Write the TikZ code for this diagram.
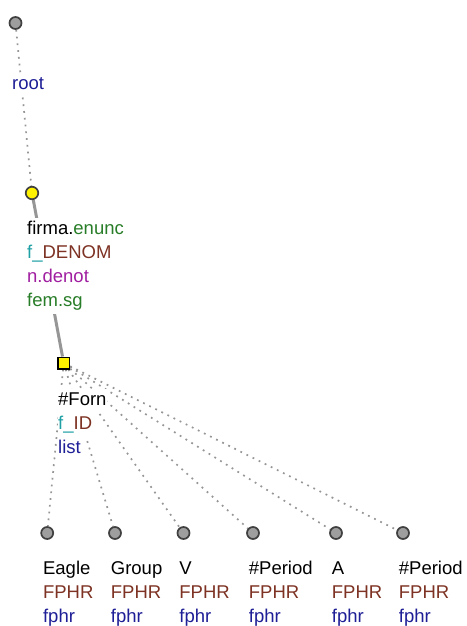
\documentclass[tikz,border=0pt]{standalone}
\usepackage{fontspec}
\setmainfont{Liberation Sans}
\definecolor{navy}{RGB}{30,30,150}
\definecolor{brn}{RGB}{125,50,35}
\definecolor{tealc}{RGB}{30,160,165}
\definecolor{grn}{RGB}{40,125,40}
\definecolor{purp}{RGB}{160,30,160}
\definecolor{edgegray}{RGB}{150,150,150}
\pgfdeclarelayer{bg}
\pgfsetlayers{bg,main}
\tikzset{
  lbl/.style={anchor=base west, fill=white, inner xsep=0.5pt, inner ysep=0pt,
    text height=16pt, text depth=7.5pt, font=\fontsize{18.5}{22}\selectfont},
  graynode/.style={circle, draw=black!75, fill=black!38, line width=1.7pt,
    minimum size=12pt, inner sep=0pt},
  yellownode/.style={circle, draw=black!75, fill=yellow, line width=1.7pt,
    minimum size=12.5pt, inner sep=0pt},
  sqnode/.style={rectangle, draw=black, fill=yellow, line width=1.5pt,
    minimum size=11.5pt, inner sep=0pt},
  dotedge/.style={draw=edgegray, line width=1.7pt, dash pattern=on 1.8pt off 5pt},
  thickedge/.style={draw=edgegray, line width=3pt},
}
\newcommand{\mkleaf}[3]{%
  \node[graynode] (#1) at (#2,533) {};
  \node[lbl] (#1a) at (#2-4.8,574) {#3};
  \node[lbl, text=brn] (#1b) at (#2-4.8,598) {FPHR};
  \node[lbl, text=navy] (#1c) at (#2-4.8,622) {fphr};
}
\begin{document}
\begin{tikzpicture}[x=1pt,y=-1pt]
\useasboundingbox (0,0) rectangle (466,626);
% nodes
\node[graynode] (root) at (15.5,23) {};
\node[lbl, text=navy] (rootl) at (11.5,89) {root};
\node[yellownode] (firma) at (32,193) {};
\node[lbl] (firmaa) at (26.5,234) {firma.\textcolor{grn}{enunc}};
\node[lbl] (firmab) at (26.5,258) {\textcolor{tealc}{f\_}\textcolor{brn}{DENOM}};
\node[lbl, text=purp] (firmac) at (26.5,282) {n.denot};
\node[lbl, text=grn] (firmad) at (26.5,306) {fem.sg};
\node[sqnode] (forn) at (63.7,363) {};
\node[lbl] (forna) at (57.5,405) {\#Forn};
\node[lbl] (fornb) at (57.5,429) {\textcolor{tealc}{f\_}\textcolor{brn}{ID}};
\node[lbl, text=navy] (fornc) at (57.5,453) {list};
\mkleaf{eagle}{47.2}{Eagle}
\mkleaf{group}{115}{Group}
\mkleaf{v}{183.5}{V}
\mkleaf{pera}{253}{\#Period}
\mkleaf{a}{336}{A}
\mkleaf{perb}{403}{\#Period}
% edges
\begin{pgfonlayer}{bg}
\draw[dotedge] (root) -- (firma);
\draw[thickedge] (firma) -- (forn);
\foreach \t in {eagle,group,v,pera,a,perb}
  \draw[dotedge] (forn) -- (\t);
\end{pgfonlayer}
\end{tikzpicture}
\end{document}
